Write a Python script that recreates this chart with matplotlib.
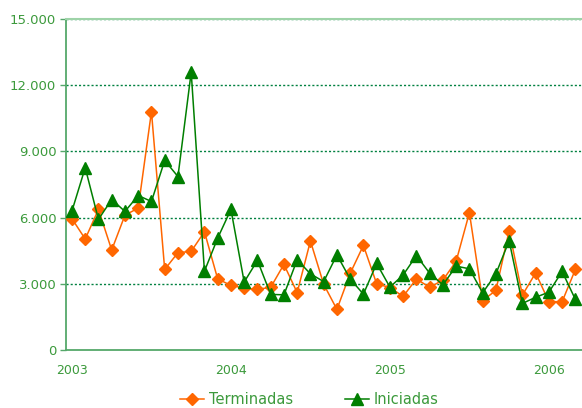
import matplotlib
matplotlib.use("Agg")
import matplotlib.pyplot as plt
from matplotlib.ticker import FuncFormatter

months = list(range(39))  # Jan 2003 .. Mar 2006
year_ticks = [0, 12, 24, 36]
year_labels = ["2003", "2004", "2005", "2006"]
y_ticks = [0, 3000, 6000, 9000, 12000, 15000]

terminadas = [5950, 5030, 6370, 4530, 6110, 6430, 10800, 3650, 4410, 4470, 5360, 3220,
              2930, 2800, 2750, 2840, 3880, 2600, 4940, 2980, 1840, 3470, 4740, 3000,
              2830, 2430, 3220, 2840, 3170, 4020, 6220, 2240, 2700, 5410, 2490, 3490,
              2190, 2190, 3650]
iniciadas = [6300, 8260, 5920, 6820, 6280, 7000, 6730, 8590, 7860, 12590, 3570, 5070,
             6370, 3080, 4060, 2520, 2500, 4090, 3450, 3100, 4310, 3220, 2530, 3920,
             2850, 3400, 4280, 3480, 2950, 3800, 3680, 2590, 3450, 4950, 2110, 2390,
             2620, 3560, 2290]

orange = "#FF6600"
green = "#007F00"
text_green = "#3C9A3C"
spine_green = "#55A86A"

fig = plt.figure(figsize=(5.82, 4.08), dpi=100)
ax = fig.add_axes([66/582, 1-350/408, 1-66/582, (350-19)/408])

ax.plot(months, terminadas, color=orange, lw=1.1, marker="D", ms=6.3,
        mec=orange, mfc=orange, label="Terminadas", zorder=3)
ax.plot(months, iniciadas, color=green, lw=1.1, marker="^", ms=8.2,
        mec=green, mfc=green, label="Iniciadas", zorder=4)

ax.set_xlim(-0.45, 38.5)
ax.set_ylim(0, 15000)
ax.set_xticks(year_ticks)
ax.set_xticklabels(year_labels)
ax.set_yticks(y_ticks)
ax.yaxis.set_major_formatter(FuncFormatter(lambda v, p: f"{int(v):,}".replace(",", ".")))

for t in y_ticks[1:]:
    ax.axhline(t, color="#008040", lw=1.0, ls=(0, (1.5, 1.5)), zorder=2)

ax.spines["right"].set_visible(False)
ax.spines["top"].set_color("#9ED3A8")
ax.spines["top"].set_linewidth(1.5)
ax.spines["left"].set_color(spine_green)
ax.spines["bottom"].set_color(spine_green)
ax.spines["left"].set_linewidth(1.3)
ax.spines["bottom"].set_linewidth(1.3)

ax.tick_params(axis="y", length=4, width=1, color=spine_green, labelcolor=text_green,
               labelsize=9.5, pad=3)
ax.tick_params(axis="x", length=0, labelcolor=text_green, labelsize=9, pad=10)

leg = fig.legend(loc="center", bbox_to_anchor=(0.532, 1-400/408), ncol=2,
                 frameon=False, fontsize=10.5, handlelength=1.6, columnspacing=3.6,
                 handletextpad=0.35, borderaxespad=0)
for txt in leg.get_texts():
    txt.set_color(text_green)

fig.savefig("out.png", dpi=100)
